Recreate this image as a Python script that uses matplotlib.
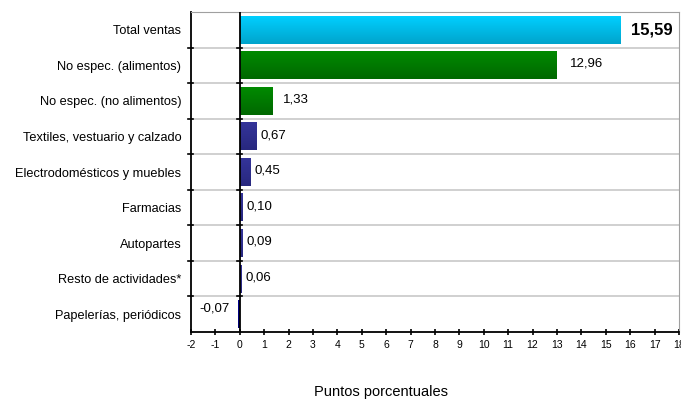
import numpy as np
import matplotlib.pyplot as plt
from matplotlib.colors import LinearSegmentedColormap

plt.rcParams['font.family'] = ['Liberation Sans', 'DejaVu Sans']

categorias = ["Total ventas", "No espec. (alimentos)", "No espec. (no alimentos)",
              "Textiles, vestuario y calzado", "Electrodomésticos y muebles",
              "Farmacias", "Autopartes", "Resto de actividades*",
              "Papelerías, periódicos"]
valores = [15.59, 12.96, 1.33, 0.67, 0.45, 0.10, 0.09, 0.06, -0.07]
etiquetas = ["15,59", "12,96", "1,33", "0,67", "0,45", "0,10", "0,09", "0,06", "-0,07"]
colores = [("#00CFFF", "#00A4CC"), ("#008A00", "#006800"), ("#008A00", "#006800"),
           ("#34349A", "#28287E"), ("#34349A", "#28287E"), ("#34349A", "#28287E"),
           ("#34349A", "#28287E"), ("#34349A", "#28287E"), ("#000090", "#000070")]

fig = plt.figure(figsize=(6.81, 4.01), dpi=100)
ax = fig.add_axes([0.2805, 0.172, 0.7165, 0.798])

n = len(categorias)
y = np.arange(n)
alto = 0.78

# barras con degradado vertical
for i, (v, (c1, c2)) in enumerate(zip(valores, colores)):
    barra = ax.barh(y[i], v, height=alto, color=c2, zorder=2)[0]
    grad = np.linspace(0, 1, 50).reshape(-1, 1)
    cmap = LinearSegmentedColormap.from_list("g", [c1, c2])
    x0, x1 = sorted([0, v])
    ax.imshow(grad, cmap=cmap, aspect="auto", zorder=2.1,
              extent=[x0, x1, y[i] + alto / 2, y[i] - alto / 2])
    barra.set_alpha(0)

# etiquetas de valor
for i, (v, t) in enumerate(zip(valores, etiquetas)):
    if i == 0:
        ax.annotate(t, (v, y[i]), xytext=(8, 0), textcoords="offset points",
                    va="center", ha="left", fontsize=12, fontweight="bold")
    elif v < 0:
        ax.annotate(t, (v, y[i]), xytext=(-6, 4), textcoords="offset points",
                    va="center", ha="right", fontsize=9.5)
    else:
        off = 10 if i == 1 else (8 if i == 2 else 3)
        ax.annotate(t, (v, y[i]), xytext=(off, 1), textcoords="offset points",
                    va="center", ha="left", fontsize=9.5)

ax.set_xlim(-2, 18)
ax.set_ylim(n - 0.5, -0.5)
ax.set_xticks(range(-2, 19))
ax.set_xticklabels([str(k) for k in range(-2, 19)], fontsize=7.5)

ax.set_yticks(y)
ax.set_yticklabels(categorias, fontsize=9.2)
ax.tick_params(axis="y", length=0, pad=7)
ax.tick_params(axis="x", direction="inout", length=5, width=1.2, pad=3)

# separadores horizontales entre categorías
for b in np.arange(-0.5, n, 1.0)[1:-1]:
    ax.axhline(b, color="#C8C8C8", lw=1.2, zorder=1)
    ax.plot([-2.12, -1.92], [b, b], color="black", lw=1.2, clip_on=False, zorder=4)
    ax.plot([-0.12, 0.08], [b, b], color="black", lw=1.2, zorder=4)

ax.axvline(0, color="black", lw=1.3, zorder=3)

for lado in ["top", "right"]:
    ax.spines[lado].set_color("#A0A0A0")
ax.spines["left"].set_linewidth(1.3)
ax.spines["bottom"].set_linewidth(1.3)

ax.set_xlabel("Puntos porcentuales", fontsize=10.5)
ax.xaxis.set_label_coords(0.39, -0.166)

fig.savefig("out.png", dpi=100)
